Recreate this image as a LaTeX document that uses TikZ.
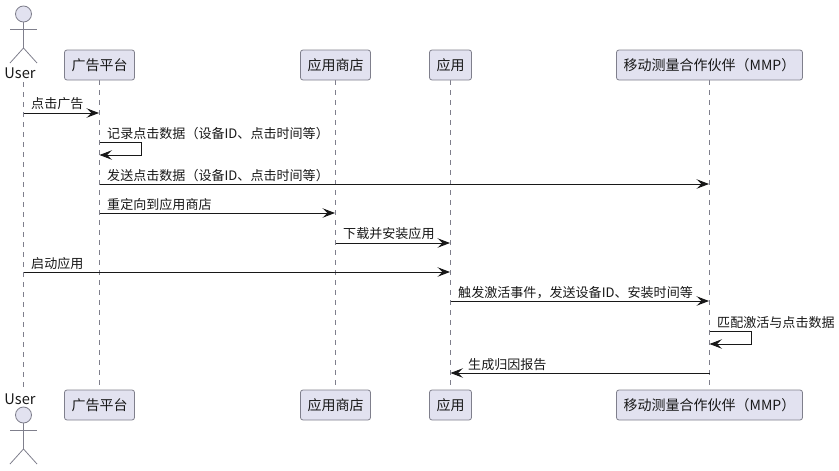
\documentclass[tikz,border=0pt]{standalone}
\usepackage{fontspec}
\setmainfont{Noto Sans CJK SC}
\usetikzlibrary{arrows.meta}
\definecolor{partfill}{HTML}{E2E2F0}
\definecolor{partline}{HTML}{7F7F8C}
\definecolor{inkdark}{HTML}{181818}
\tikzset{
  x=1pt,y=-1pt,
  partbox/.style={draw=partline,fill=partfill,rounded corners=2.5pt,line width=0.8pt,
    minimum height=30pt,inner sep=0pt,font=\fontsize{14}{14}\selectfont,text=inkdark},
  lifeline/.style={draw=partline,line width=0.7pt,dash pattern=on 5pt off 5pt},
  limb/.style={draw=partline,line width=0.8pt},
  msg/.style={draw=inkdark,line width=0.9pt,-{Stealth[length=12.5pt,width=9.5pt,inset=5pt]}},
  selfmsg/.style={msg,rounded corners=0pt},
  msgtext/.style={font=\fontsize{13.05}{13}\selectfont,text=inkdark,inner sep=0pt,anchor=base west},
  actortext/.style={font=\fontsize{14.6}{14}\selectfont,text=inkdark,inner sep=0pt}
}
% stick figure: #1 = name, #2 = x, #3 = y of the head centre
\newcommand{\stickman}[3]{%
  \node[circle,draw=partline,fill=partfill,line width=0.8pt,minimum size=16pt,inner sep=0pt] (#1head) at (#2,#3) {};
  \coordinate (#1hip) at (#2,#3+34);
  \coordinate (#1armL) at (#2-13.5,#3+15);
  \coordinate (#1armR) at (#2+13.5,#3+15);
  \coordinate (#1legL) at (#2-13.5,#3+49);
  \coordinate (#1legR) at (#2+13.5,#3+49);
  \draw[limb] (#1head.south) -- (#1hip);
  \draw[limb] (#1armL) -- (#1armR);
  \draw[limb] (#1legL) -- (#1hip) -- (#1legR);
}
\begin{document}
\begin{tikzpicture}
\useasboundingbox (0,0) rectangle (839,471);

% lifeline end points
\coordinate (uTop) at (23.5,82);  \coordinate (uBot) at (23.5,388);
\coordinate (aTop) at (99.5,80);  \coordinate (aBot) at (99.5,390);
\coordinate (sTop) at (335.5,80); \coordinate (sBot) at (335.5,390);
\coordinate (pTop) at (450.5,80); \coordinate (pBot) at (450.5,390);
\coordinate (mTop) at (709.5,80); \coordinate (mBot) at (709.5,390);
\draw[lifeline] (uTop) -- (uBot);
\draw[lifeline] (aTop) -- (aBot);
\draw[lifeline] (sTop) -- (sBot);
\draw[lifeline] (pTop) -- (pBot);
\draw[lifeline] (mTop) -- (mBot);

% participants, top row and bottom row
\stickman{userT}{23.5}{14}
\node[actortext] (userTopLabel) at (20,73.5) {User};
\node[partbox,minimum width=70pt]  (adT)    at (99.5,65)  {广告平台};
\node[partbox,minimum width=70pt]  (storeT) at (335.5,65) {应用商店};
\node[partbox,minimum width=42pt]  (appT)   at (450.5,65) {应用};
\node[partbox,minimum width=186pt] (mmpT)   at (709.5,65) {移动测量合作伙伴（MMP）};

\node[actortext] (userBotLabel) at (20,399.5) {User};
\stickman{userB}{23.5}{415}
\node[partbox,minimum width=70pt]  (adB)    at (99.5,405)  {广告平台};
\node[partbox,minimum width=70pt]  (storeB) at (335.5,405) {应用商店};
\node[partbox,minimum width=42pt]  (appB)   at (450.5,405) {应用};
\node[partbox,minimum width=186pt] (mmpB)   at (709.5,405) {移动测量合作伙伴（MMP）};

% message anchors on the lifelines
\coordinate (m1a) at (23.5,113);  \coordinate (m1b) at (99,113);
\coordinate (m2a) at (99.5,142);  \coordinate (m2b) at (99.5,155);
\coordinate (m3a) at (99.5,184);  \coordinate (m3b) at (709,184);
\coordinate (m4a) at (99.5,213);  \coordinate (m4b) at (335,213);
\coordinate (m5a) at (335.5,243); \coordinate (m5b) at (450,243);
\coordinate (m6a) at (23.5,272);  \coordinate (m6b) at (450,272);
\coordinate (m7a) at (450.5,301); \coordinate (m7b) at (709,301);
\coordinate (m8a) at (709.5,331); \coordinate (m8b) at (709.5,344);
\coordinate (m9a) at (709.5,373); \coordinate (m9b) at (450.5,373);

% messages
\draw[msg] (m1a) -- (m1b);
\draw[selfmsg] (m2a) -- ++(42,0) |- (m2b);
\draw[msg] (m3a) -- (m3b);
\draw[msg] (m4a) -- (m4b);
\draw[msg] (m5a) -- (m5b);
\draw[msg] (m6a) -- (m6b);
\draw[msg] (m7a) -- (m7b);
\draw[selfmsg] (m8a) -- ++(42,0) |- (m8b);
\draw[msg] (m9a) -- (m9b);

% message labels
\node[msgtext] (t1) at (31,108)  {点击广告};
\node[msgtext] (t2) at (107,138) {记录点击数据（设备ID、点击时间等）};
\node[msgtext] (t3) at (107,180) {发送点击数据（设备ID、点击时间等）};
\node[msgtext] (t4) at (107,209) {重定向到应用商店};
\node[msgtext] (t5) at (343,238) {下载并安装应用};
\node[msgtext] (t6) at (31,268)  {启动应用};
\node[msgtext] (t7) at (458,297) {触发激活事件，发送设备ID、安装时间等};
\node[msgtext] (t8) at (717,327) {匹配激活与点击数据};
\node[msgtext] (t9) at (468,369) {生成归因报告};
\end{tikzpicture}
\end{document}
